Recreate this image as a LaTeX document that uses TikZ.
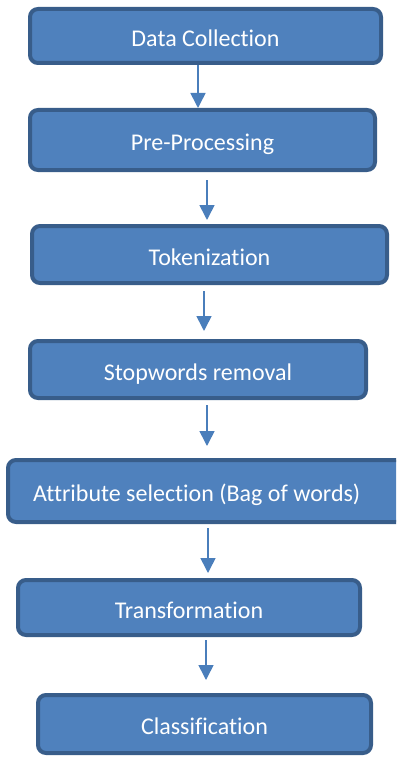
\documentclass[tikz,border=0pt]{standalone}
\usepackage{fontspec}
\setmainfont{Carlito}[Ligatures=NoCommon]
\usepackage{xcolor}
\usetikzlibrary{arrows.meta}

\definecolor{boxfill}{HTML}{4F81BD}
\definecolor{boxline}{HTML}{385D8A}
\definecolor{arrowblue}{HTML}{4A7EBB}

\begin{document}
\begin{tikzpicture}[
    x=1pt, y=-1pt,
    every node/.style={font=\fontsize{24}{28}\selectfont},
    stagebox/.style={rectangle, draw=boxline, fill=boxfill, line width=4pt, rounded corners=8pt, text=white, text height=21pt, text depth=0pt, inner ysep=0pt},
    flow/.style={draw=arrowblue, line width=1.6pt, -{Triangle[width=15pt,length=15pt]}}
]
\useasboundingbox (0,0) rectangle (396,757);
\clip (0,0) rectangle (396,757);

% Nodes
\node[stagebox, minimum width=351pt, minimum height=54pt] (collect) at (205.5,36) {Data Collection};
\node[stagebox, minimum width=345pt, minimum height=60pt] (prep) at (202.5,140) {Pre-Processing};
\node[stagebox, minimum width=355pt, minimum height=57pt] (token) at (209.5,254.5) {Tokenization};
\node[stagebox, minimum width=336pt, minimum height=57pt] (stopw) at (198,369.5) {Stopwords removal};
\node[stagebox, minimum height=62pt, inner xsep=25pt, text width=346pt, align=flush left] (attr) at (206,491) {Attribute selection (Bag of words)};
\node[stagebox, minimum width=342pt, minimum height=55pt] (transf) at (189,607.5) {Transformation};
\node[stagebox, minimum width=333pt, minimum height=58pt] (classif) at (204.5,724) {Classification};

% Edges
\draw[flow] ([xshift=-7.5pt]collect.south) -- ([xshift=-7.5pt]collect.south |- prep.north);
\draw[flow, shorten <=8pt, shorten >=4pt] ([xshift=4.5pt]prep.south) -- ([xshift=4.5pt]prep.south |- token.north);
\draw[flow, shorten <=6pt, shorten >=8pt] ([xshift=-5.5pt]token.south) -- ([xshift=-5.5pt]token.south |- stopw.north);
\draw[flow, shorten <=5pt, shorten >=12pt] ([xshift=9pt]stopw.south) -- ([xshift=9pt]stopw.south |- attr.north);
\draw[flow, shorten <=4pt, shorten >=5pt] ([xshift=2pt]attr.south) -- ([xshift=2pt]attr.south |- transf.north);
\draw[flow, shorten <=3pt, shorten >=13pt] ([xshift=17pt]transf.south) -- ([xshift=17pt]transf.south |- classif.north);

\end{tikzpicture}
\end{document}
